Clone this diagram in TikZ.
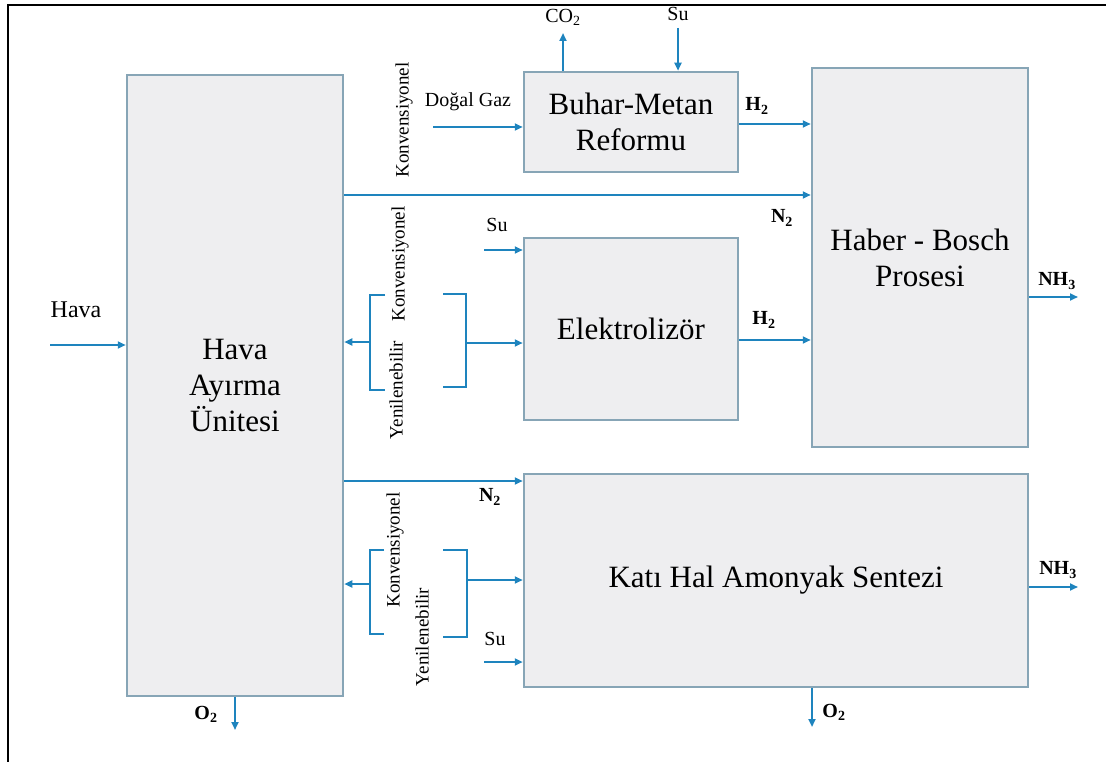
\documentclass[tikz,border=0pt]{standalone}
\usepackage{fontspec}
\setmainfont{Liberation Serif}
\usetikzlibrary{arrows.meta, positioning, calc}
\definecolor{cFlow}{RGB}{30,132,190}
\definecolor{cEdge}{RGB}{135,165,182}
\definecolor{cFill}{RGB}{238,238,240}
\tikzset{
	unit/.style ={rectangle, draw=cEdge, line width=2.5pt, fill=cFill, inner sep=0pt, align=center, font=\fontsize{31}{36}\selectfont},
	flow/.style ={-{Triangle[length=8pt, width=7pt]}, line width=2.7pt, draw=cFlow},
	brk/.style  ={line width=2.7pt, draw=cFlow},
	lbl/.style  ={inner sep=1pt, font=\fontsize{20}{22}\selectfont},
	gas/.style  ={lbl, font=\fontsize{20}{22}\selectfont\bfseries},
	vlbl/.style ={inner sep=1pt, rotate=90, font=\fontsize{19}{21}\selectfont},
}

\begin{document}
\begin{tikzpicture}[x=1pt, y=-1pt]
	\useasboundingbox (0,0) rectangle (1106,762);
	\draw[line width=2pt] (8,762) -- (8,5) -- (1106,5);
	% process units
	\node[unit, minimum width=216pt, minimum height=621pt] (asu) at (235,385.5) {Hava\\Ayırma\\Ünitesi};
	\node[unit, minimum width=214pt, minimum height=100pt] (smr) at (631,122) {Buhar-Metan\\Reformu};
	\node[unit, minimum width=216pt, minimum height=379pt] (hb)  at (920,257.5) {Haber - Bosch\\Prosesi};
	\node[unit, minimum width=214pt, minimum height=182pt] (elz) at (631,329) {Elektrolizör};
	\node[unit, minimum width=504pt, minimum height=213pt] (ssas) at (776,580.5) {Katı Hal Amonyak Sentezi};
	% free ends
	\coordinate (hava) at (50,345);
	\coordinate (ng)   at (433,127);
	\coordinate (co2)  at (563,33);
	\coordinate (su1)  at (678,28);
	\coordinate (h2a)  at (0,124);
	\coordinate (n2a)  at (0,195);
	\coordinate (su2)  at (484,250);
	\coordinate (h2b)  at (0,340);
	\coordinate (nh3a) at (1078,297);
	\coordinate (n2b)  at (0,481);
	\coordinate (su3)  at (484,662);
	\coordinate (nh3b) at (1078,587);
	\coordinate (o2a)  at (235,730);
	\coordinate (o2b)  at (812,727);
	% streams
	\draw[flow] (hava) -- (hava -| asu.west);
	\node[font=\fontsize{24}{26}\selectfont] (lhava) at (76,310) {Hava};
	\draw[flow] (ng) -- (ng -| smr.west);
	\node[lbl] (lng) at (468,102) {Doğal Gaz};
	\draw[flow] (co2 |- smr.north) -- (co2);
	\node[lbl] (lco2) at (563,17) {CO\textsubscript{2}};
	\draw[flow] (su1) -- (su1 |- smr.north);
	\node[lbl] (lsu1) at (678,14) {Su};
	\draw[flow] (h2a -| smr.east) -- (h2a -| hb.west);
	\node[gas] (lh2a) at (757,106) {H\textsubscript{2}};
	\draw[flow] (n2a -| asu.east) -- (n2a -| hb.west);
	\node[gas] (ln2a) at (782,218) {N\textsubscript{2}};
	\draw[flow] (su2) -- (su2 -| elz.west);
	\node[lbl] (lsu2) at (497,225) {Su};
	\draw[flow] (h2b -| elz.east) -- (h2b -| hb.west);
	\node[gas] (lh2b) at (764,320) {H\textsubscript{2}};
	\draw[flow] (nh3a -| hb.east) -- (nh3a);
	\node[gas] (lnh3a) at (1057,281) {NH\textsubscript{3}};
	\draw[flow] (n2b -| asu.east) -- (n2b -| ssas.west);
	\node[gas] (ln2b) at (490,497) {N\textsubscript{2}};
	\draw[flow] (su3) -- (su3 -| ssas.west);
	\node[lbl] (lsu3) at (495,639) {Su};
	\draw[flow] (nh3b -| ssas.east) -- (nh3b);
	\node[gas] (lnh3b) at (1058,570) {NH\textsubscript{3}};
	\draw[flow] (o2a |- asu.south) -- (o2a);
	\node[gas] (lo2a) at (206,714) {O\textsubscript{2}};
	\draw[flow] (o2b |- ssas.south) -- (o2b);
	\node[gas] (lo2b) at (834,712) {O\textsubscript{2}};
	% energy source brackets
	\node[vlbl] (kv0) at (404,120) {Konvensiyonel};
	\draw[brk] (385,295) -- (370,295) -- (370,390) -- (385,390);
	\draw[brk] (443,294) -- (466,294) -- (466,387) -- (443,387);
	\coordinate (bl1) at (370,342);
	\coordinate (br1) at (466,343);
	\draw[flow] (bl1) -- (bl1 -| asu.east);
	\draw[flow] (br1) -- (br1 -| elz.west);
	\node[vlbl] (kv1) at (400,264) {Konvensiyonel};
	\node[vlbl] (yn1) at (396,390) {Yenilenebilir};
	\draw[brk] (384,550) -- (370,550) -- (370,634) -- (384,634);
	\draw[brk] (443,550) -- (467,550) -- (467,637) -- (443,637);
	\coordinate (bl2) at (370,584);
	\coordinate (br2) at (467,580);
	\draw[flow] (bl2) -- (bl2 -| asu.east);
	\draw[flow] (br2) -- (br2 -| ssas.west);
	\node[vlbl] (kv2) at (395,550) {Konvensiyonel};
	\node[vlbl] (yn2) at (422,637) {Yenilenebilir};
\end{tikzpicture}
\end{document}
